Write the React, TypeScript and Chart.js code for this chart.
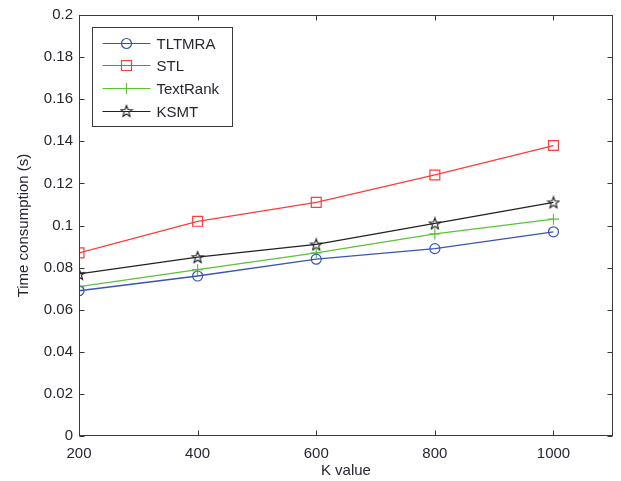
import React, { useEffect, useRef } from 'react';
import { Chart, registerables } from 'chart.js';

Chart.register(...registerables);

const kValues = [200, 400, 600, 800, 1000];
const tltmra = [0.069, 0.076, 0.084, 0.089, 0.097];
const stl = [0.087, 0.102, 0.111, 0.124, 0.138];
const textRank = [0.071, 0.079, 0.087, 0.096, 0.103];
const ksmt = [0.077, 0.085, 0.091, 0.101, 0.111];
const seriesNames = ['TLTMRA', 'STL', 'TextRank', 'KSMT'];
const xTickValues = [200, 400, 600, 800, 1000];
const yTickValues = [0, 0.02, 0.04, 0.06, 0.08, 0.1, 0.12, 0.14, 0.16, 0.18, 0.2];
const xTitle = 'K value';
const yTitle = 'Time consumption (s)';

const FONT = '"Liberation Sans", Arial, sans-serif';
const TEXT = '#262630';
const colors = ['#3a55b4', '#ff3b3b', '#5cc23a', '#222222'];

function makeStar(color: string) {
  const c = document.createElement('canvas');
  c.width = 14;
  c.height = 14;
  const ctx = c.getContext('2d')!;
  const cx = 7, cy = 7.5, R = 6, r = 2.5;
  ctx.beginPath();
  for (let i = 0; i < 10; i++) {
    const a = -Math.PI / 2 + (i * Math.PI) / 5;
    const rad = i % 2 === 0 ? R : r;
    const px = cx + rad * Math.cos(a);
    const py = cy + rad * Math.sin(a);
    if (i === 0) ctx.moveTo(px, py);
    else ctx.lineTo(px, py);
  }
  ctx.closePath();
  ctx.strokeStyle = color;
  ctx.lineWidth = 1.1;
  ctx.stroke();
  return c;
}

export default function App() {
  const ref = useRef<HTMLCanvasElement>(null);

  useEffect(() => {
    const star = makeStar(colors[3]);
    const seriesValues = [tltmra, stl, textRank, ksmt];
    const styles: any[] = ['circle', 'rect', 'cross', star];
    const radii = [5, 7, 5.5, 6];

    const frameLegend = {
      id: 'frameLegend',
      afterDraw(chart: any) {
        const { ctx, chartArea, scales } = chart;
        const { left, right, top, bottom } = chartArea;
        ctx.save();
        ctx.strokeStyle = '#3a3a3a';
        ctx.lineWidth = 1;
        const L = Math.round(left) + 0.5, R = Math.round(right) - 0.5;
        const T = Math.round(top) + 0.5, B = Math.round(bottom) - 0.5;
        ctx.strokeRect(L, T, R - L, B - T);
        ctx.beginPath();
        for (const v of xTickValues) {
          const px = Math.round(scales.x.getPixelForValue(v)) + 0.5;
          ctx.moveTo(px, B); ctx.lineTo(px, B - 5);
          ctx.moveTo(px, T); ctx.lineTo(px, T + 5);
        }
        for (const v of yTickValues) {
          const py = Math.round(scales.y.getPixelForValue(v)) + 0.5;
          ctx.moveTo(L, py); ctx.lineTo(L + 5, py);
          ctx.moveTo(R, py); ctx.lineTo(R - 5, py);
        }
        ctx.stroke();

        // legend box
        const bx = L + 13, by = T + 12, bw = 140, bh = 99;
        ctx.fillStyle = '#ffffff';
        ctx.fillRect(bx, by, bw, bh);
        ctx.strokeStyle = '#3a3a3a';
        ctx.strokeRect(bx, by, bw, bh);
        ctx.font = `15px ${FONT}`;
        ctx.textBaseline = 'middle';
        ctx.textAlign = 'left';
        seriesNames.forEach((name, i) => {
          const ry = Math.round(by + 15 + i * 22.8) + 0.5;
          const x0 = bx + 10, x1 = bx + 58, mx = (x0 + x1) / 2;
          ctx.strokeStyle = colors[i];
          ctx.lineWidth = 1.2;
          ctx.beginPath();
          ctx.moveTo(x0, ry); ctx.lineTo(x1, ry);
          ctx.stroke();
          ctx.beginPath();
          if (i === 0) {
            ctx.arc(mx, ry, 5, 0, Math.PI * 2);
            ctx.stroke();
          } else if (i === 1) {
            ctx.rect(mx - 5, ry - 5, 10, 10);
            ctx.stroke();
          } else if (i === 2) {
            ctx.moveTo(mx, ry - 5.5); ctx.lineTo(mx, ry + 5.5);
            ctx.moveTo(mx - 5.5, ry); ctx.lineTo(mx + 5.5, ry);
            ctx.stroke();
          } else {
            ctx.drawImage(star, mx - 7, ry - 7.5);
          }
          ctx.fillStyle = TEXT;
          ctx.fillText(name, bx + 64, ry + 1);
        });
        ctx.restore();
      },
    };

    const chart = new Chart(ref.current!, {
      type: 'line',
      data: {
        datasets: seriesNames.map((name, i) => ({
          label: name,
          data: kValues.map((k, j) => ({ x: k, y: seriesValues[i][j] })),
          borderColor: colors[i],
          backgroundColor: 'rgba(0,0,0,0)',
          borderWidth: 1.3,
          pointStyle: styles[i],
          pointRadius: radii[i],
          pointBorderColor: colors[i],
          pointBackgroundColor: 'rgba(0,0,0,0)',
          pointBorderWidth: 1.2,
          tension: 0,
          fill: false,
        })),
      },
      options: {
        animation: false,
        responsive: false,
        maintainAspectRatio: false,
        layout: { padding: { top: 14, right: 6, bottom: 1, left: 15 } },
        plugins: {
          legend: { display: false },
          tooltip: { enabled: false },
        },
        scales: {
          x: {
            type: 'linear',
            min: 200,
            max: 1100,
            afterBuildTicks: (s: any) => {
              s.ticks = xTickValues.map((v) => ({ value: v }));
            },
            afterFit: (s: any) => {
              s.height = 44;
            },
            grid: { display: false, drawTicks: false },
            border: { display: false },
            ticks: {
              color: TEXT,
              font: { family: FONT, size: 15 },
              padding: 9,
              maxRotation: 0,
              autoSkip: false,
              callback: (v: any) => String(v),
            },
            title: {
              display: true,
              text: xTitle,
              color: TEXT,
              font: { family: FONT, size: 15 },
              padding: { top: 0, bottom: 0 },
            },
          },
          y: {
            type: 'linear',
            min: 0,
            max: 0.2,
            afterBuildTicks: (s: any) => {
              s.ticks = yTickValues.map((v) => ({ value: v }));
            },
            afterFit: (s: any) => {
              s.width = 64;
            },
            grid: { display: false, drawTicks: false },
            border: { display: false },
            ticks: {
              color: TEXT,
              font: { family: FONT, size: 15 },
              padding: 6,
              callback: (v: any) => String(Number(Number(v).toFixed(2))),
            },
            title: {
              display: true,
              text: yTitle,
              color: TEXT,
              font: { family: FONT, size: 15 },
              padding: { top: 0, bottom: 0 },
            },
          },
        },
      },
      plugins: [frameLegend],
    });
    return () => chart.destroy();
  }, []);

  return (
    <div style={{ position: 'absolute', left: 0, top: 0, width: 621, height: 481, background: '#fff' }}>
      <canvas ref={ref} width={621} height={481} style={{ width: 621, height: 481, display: 'block' }} />
    </div>
  );
}
